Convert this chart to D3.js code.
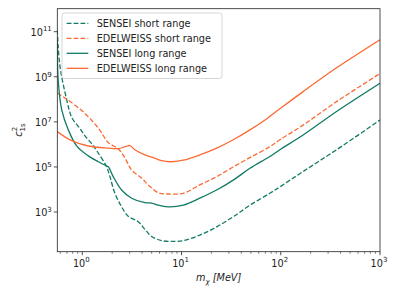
<!DOCTYPE html>
<html>
<head>
<meta charset="utf-8">
<script src="https://cdn.jsdelivr.net/npm/d3@7"></script>
<style>
  body { margin: 0; background: #fff; }
  svg { font-family: "DejaVu Sans", sans-serif; }
</style>
</head>
<body>
<svg id="chart" width="399" height="299"></svg>
<script>
// series: [m_chi in MeV, c_1s^2]
const senseiShort = [
  [0.56, 1.2e11], [0.596, 2.9e9], [0.697, 9.5e7], [0.782, 1.6e7], [0.948, 5.0e6],
  [1.064, 2.4e6], [1.24, 1.1e6], [1.40, 5.2e5], [1.76, 1.0e5], [1.90, 3.7e4],
  [2.13, 6.8e3], [2.49, 1.7e3], [2.90, 650], [3.66, 370], [4.28, 170],
  [5.0, 82], [6.31, 54], [7.95, 50], [10.4, 54], [15.3, 95], [22.6, 220],
  [33.2, 620], [48.9, 2.0e3], [77.6, 6.8e3], [97.9, 1.3e4], [168, 6.3e4],
  [365, 5.8e5], [1000, 1.2e7]
];
const edelweissShort = [
  [0.56, 1.9e8], [0.70, 1.0e8], [1.04, 2.6e7], [1.47, 4.9e6], [1.83, 1.2e6],
  [2.31, 6.3e5], [2.69, 2.5e5], [3.14, 7.4e4], [3.96, 3.2e4], [4.62, 1.6e4],
  [5.82, 7.2e3], [7.35, 6.3e3], [10.4, 6.8e3], [15.3, 1.6e4], [22.6, 3.7e4],
  [33.2, 1.0e5], [48.9, 2.6e5], [77.6, 7.9e5], [97.9, 1.6e6], [168, 7.2e6],
  [365, 7.9e7], [1000, 1.4e9]
];
const senseiLong = [
  [0.56, 4.4e10], [0.573, 6.2e8], [0.621, 3.4e7], [0.723, 4.4e6], [0.885, 8.1e5],
  [1.15, 3.1e5], [1.45, 1.7e5], [1.76, 1.1e5], [1.83, 1.02e5], [2.05, 3.7e4],
  [2.49, 9.5e3], [3.14, 4.1e3], [4.28, 2.6e3], [5.0, 2.5e3], [5.82, 2.0e3],
  [7.35, 1.7e3], [10.4, 2.0e3], [15.3, 4.1e3], [22.6, 9.5e3], [33.2, 2.6e4],
  [48.9, 8.7e4], [77.6, 2.9e5], [97.9, 5.8e5], [168, 2.6e6], [365, 2.9e7],
  [1000, 5.2e8]
];
const edelweissLong = [
  [0.56, 3.7e6], [0.752, 1.6e6], [1.15, 8.5e5], [1.83, 6.8e5], [2.31, 6.5e5],
  [2.75, 8.1e5], [3.02, 8.9e5], [3.39, 5.8e5], [4.28, 3.4e5], [5.19, 2.6e5],
  [6.31, 1.9e5], [7.64, 1.7e5], [10.4, 2.0e5], [15.3, 3.4e5], [22.6, 6.8e5],
  [33.2, 1.6e6], [48.9, 4.4e6], [71.9, 1.35e7], [97.9, 3.8e7], [168, 2.2e8],
  [365, 2.5e9], [1000, 4.4e10]
];

const seriesNames = ["SENSEI short range", "EDELWEISS short range", "SENSEI long range", "EDELWEISS long range"];
const xMajor = [1, 10, 100, 1000];
const yMajor = [1e3, 1e5, 1e7, 1e9, 1e11];

const teal = "#117a65", orange = "#fb6a32";
const series = [
  { name: seriesNames[0], data: senseiShort, color: teal, dash: "4.8,2.1" },
  { name: seriesNames[1], data: edelweissShort, color: orange, dash: "4.8,2.1" },
  { name: seriesNames[2], data: senseiLong, color: teal, dash: null },
  { name: seriesNames[3], data: edelweissLong, color: orange, dash: null }
];

const plotL = 57.3, plotR = 380, plotT = 8.7, plotB = 251.7;
const svg = d3.select("#chart");

const x = d3.scaleLog().domain([0.56, 1000]).range([plotL, plotR]);
const y = d3.scaleLog().domain([Math.pow(10, 1.24), Math.pow(10, 12.02)]).range([plotB, plotT]);

svg.append("defs").append("clipPath").attr("id", "clip")
  .append("rect").attr("x", plotL).attr("y", plotT)
  .attr("width", plotR - plotL).attr("height", plotB - plotT);

// curves
const line = d3.line()
  .x(d => x(d[0]))
  .y(d => y(d[1]))
  .curve(d3.curveCatmullRom.alpha(0.5));

const g = svg.append("g").attr("clip-path", "url(#clip)");
series.forEach(s => {
  g.append("path")
    .attr("d", line(s.data))
    .attr("fill", "none")
    .attr("stroke", s.color)
    .attr("stroke-width", 1.3)
    .attr("stroke-dasharray", s.dash);
});

// frame
svg.append("rect")
  .attr("x", plotL).attr("y", plotT)
  .attr("width", plotR - plotL).attr("height", plotB - plotT)
  .attr("fill", "none").attr("stroke", "#222").attr("stroke-width", 0.8);

function sup(sel, base, exp) {
  sel.append("tspan").text(base);
  sel.append("tspan").attr("dy", -4.5).attr("font-size", "7px").text(exp);
}

// x axis ticks
const xMinor = [];
[0.1, 1, 10, 100].forEach(dec => {
  for (let k = 2; k <= 9; k++) {
    const v = dec * k;
    if (v >= 0.56 && v <= 1000) xMinor.push(v);
  }
});
svg.append("g").selectAll("line.minor").data(xMinor).join("line")
  .attr("x1", d => x(d)).attr("x2", d => x(d))
  .attr("y1", plotB).attr("y2", plotB + 2)
  .attr("stroke", "#222").attr("stroke-width", 0.6);
svg.append("g").selectAll("line.major").data(xMajor).join("line")
  .attr("x1", d => x(d)).attr("x2", d => x(d))
  .attr("y1", plotB).attr("y2", plotB + 3.5)
  .attr("stroke", "#222").attr("stroke-width", 0.8);
svg.append("g").selectAll("text").data(xMajor).join("text")
  .attr("x", d => x(d) - 1).attr("y", 266.5)
  .attr("text-anchor", "middle").attr("font-size", "9.7px").attr("fill", "#222")
  .each(function(d) { sup(d3.select(this), "10", String(Math.round(Math.log10(d)))); });

// y axis ticks
svg.append("g").selectAll("line").data(yMajor).join("line")
  .attr("x1", plotL - 3.5).attr("x2", plotL)
  .attr("y1", d => y(d)).attr("y2", d => y(d))
  .attr("stroke", "#222").attr("stroke-width", 0.8);
svg.append("g").selectAll("text").data(yMajor).join("text")
  .attr("x", plotL - 5.5).attr("y", d => y(d) + 4.3)
  .attr("text-anchor", "end").attr("font-size", "9.7px").attr("fill", "#222")
  .each(function(d) { sup(d3.select(this), "10", String(Math.round(Math.log10(d)))); });

// axis labels
const xl = svg.append("text")
  .attr("x", 218.7).attr("y", 281)
  .attr("text-anchor", "middle").attr("font-size", "9.7px").attr("fill", "#222")
  .attr("font-style", "italic");
xl.append("tspan").text("m");
xl.append("tspan").attr("dy", 2.5).attr("font-size", "7px").text("χ");
xl.append("tspan").attr("dy", -2.5).text(" [MeV]");

const yl = svg.append("text")
  .attr("transform", "translate(22,130) rotate(-90)")
  .attr("text-anchor", "middle").attr("font-size", "9.7px").attr("fill", "#222")
  .attr("font-style", "italic");
yl.append("tspan").text("c");
yl.append("tspan").attr("dy", 2.5).attr("font-size", "7px").attr("font-style", "normal").text("1s");
yl.append("tspan").attr("dx", -8).attr("dy", -7.5).attr("font-size", "7px").attr("font-style", "normal").text("2");

// legend
const lg = svg.append("g");
lg.append("rect")
  .attr("x", 62).attr("y", 13).attr("width", 160).attr("height", 65.5)
  .attr("rx", 2.5).attr("fill", "#fff").attr("fill-opacity", 0.8)
  .attr("stroke", "#ccc").attr("stroke-width", 0.8);
series.forEach((s, i) => {
  const yy = 23.3 + i * 15;
  lg.append("line")
    .attr("x1", 66.7).attr("x2", 88.3).attr("y1", yy).attr("y2", yy)
    .attr("stroke", s.color).attr("stroke-width", 1.3)
    .attr("stroke-dasharray", s.dash);
  lg.append("text")
    .attr("x", 96.7).attr("y", yy + 3.5)
    .attr("font-size", "9.7px").attr("fill", "#222")
    .text(s.name);
});
</script>
</body>
</html>
